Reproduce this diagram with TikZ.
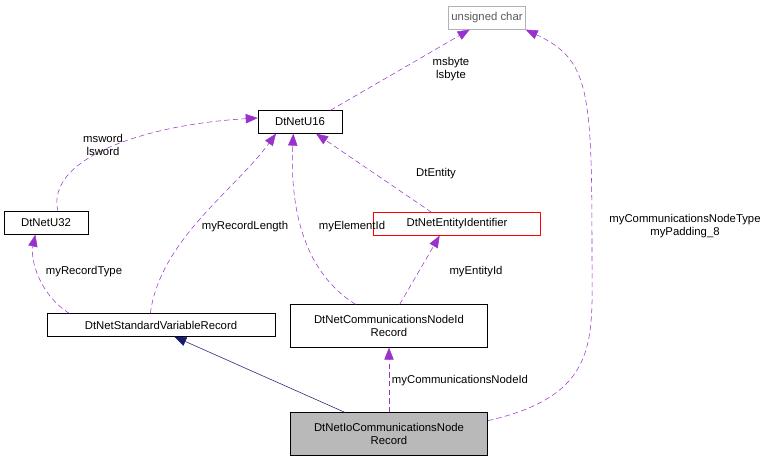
\documentclass[tikz,border=0pt]{standalone}
\usepackage{fontspec}
\setmainfont{Liberation Sans}
\usetikzlibrary{arrows.meta}
\definecolor{usepurple}{RGB}{153,50,204}
\definecolor{inhnavy}{RGB}{25,25,112}
\tikzset{
  cls/.style={draw=black,fill=white,inner sep=2pt,minimum height=17pt,align=center,font=\fontsize{8.5}{10}\selectfont},
  usage/.style={draw=usepurple,dash pattern=on 4pt off 2.5pt,-{Triangle[length=9pt,width=7pt,fill=usepurple]}},
  lbl/.style={align=center,font=\fontsize{8.5}{10}\selectfont}
}
\begin{document}
\begin{tikzpicture}[x=0.75pt,y=0.75pt,yscale=-1,xscale=1]
\useasboundingbox (0,0) rectangle (780,461);

%Class boxes
\node [cls,draw=gray!60,text=gray!70!black,minimum width=58pt] (uchar) at (487,18) {unsigned char};
\node [cls,minimum width=63pt] (u16) at (300,122) {DtNetU16};
\node [cls,minimum width=63pt] (u32) at (46,223) {DtNetU32};
\node [cls,draw=red,minimum width=125pt] (entid) at (457,224) {DtNetEntityIdentifier};
\node [cls,minimum width=171pt] (stdrec) at (161,325) {DtNetStandardVariableRecord};
\node [cls,minimum width=148pt,minimum height=32pt] (nodeid) at (389,326) {DtNetCommunicationsNodeId\\Record};
\node [cls,fill=gray!55,minimum width=148pt,minimum height=32pt] (ionode) at (389,434) {DtNetIoCommunicationsNode\\Record};

%Inheritance
\draw [inhnavy,-{Triangle[length=9pt,width=7pt]}] ([xshift=-33pt]ionode.north) -- ([xshift=10pt]stdrec.south);

%Usage
\draw [usage] ([xshift=-9pt]u16.north east) -- ([xshift=-13pt]uchar.south);
\draw [usage] ([xshift=9pt]u32.north) .. controls (45,160) and (140,125) .. ([yshift=-3pt]u16.west);
\draw [usage] ([xshift=17pt]stdrec.north west) .. controls (40,295) and (30,260) .. ([xshift=-8pt]u32.south);
\draw [usage] ([xshift=-8pt]stdrec.north) .. controls (160,240) and (235,190) .. ([xshift=-18pt]u16.south);
\draw [usage] ([xshift=-25pt]nodeid.north) .. controls (300,270) and (290,200) .. ([xshift=-5pt]u16.south);
\draw [usage] ([xshift=-19pt]entid.north) -- ([xshift=12pt]u16.south);
\draw [usage] ([xshift=8pt]nodeid.north) -- ([xshift=-13pt]entid.south);
\draw [usage] (ionode.north) -- (nodeid.south);
\draw [usage] ([yshift=-10pt]ionode.east) .. controls (600,395) and (592,340) .. (592,260) .. controls (592,90) and (590,60) .. ([xshift=29pt]uchar.south);

% Text Node
\node [lbl] (l1) at (451,69) {msbyte\\lsbyte};
\node [lbl] (l2) at (103,145) {msword\\lsword};
\node [lbl] (l3) at (84,272) {myRecordType};
\node [lbl] (l4) at (245,227) {myRecordLength};
\node [lbl] (l5) at (352,227) {myElementId};
\node [lbl] (l6) at (436,174) {DtEntity};
\node [lbl] (l7) at (476,272) {myEntityId};
\node [lbl] (l8) at (460,381) {myCommunicationsNodeId};
\node [lbl] (l9) at (685,226) {myCommunicationsNodeType\\myPadding\_8};

\end{tikzpicture}
\end{document}
